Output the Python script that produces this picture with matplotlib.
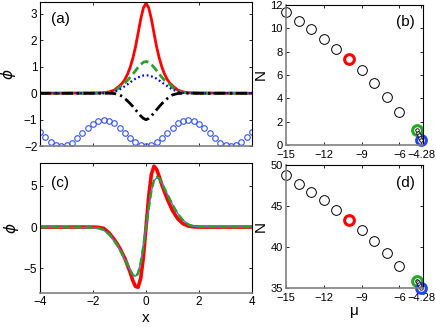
import numpy as np
import matplotlib
matplotlib.use('Agg')
import matplotlib.pyplot as plt

plt.rcParams['font.family'] = ['Liberation Sans', 'DejaVu Sans']
plt.rcParams['mathtext.fontset'] = 'dejavusans'

# ---- panel (a): profiles ----
x_a = [-4, -2, -1.6, -1.4, -1.2, -1.0, -0.9, -0.8, -0.7, -0.6, -0.5, -0.4, -0.3, -0.2, -0.1,
       0, 0.1, 0.2, 0.3, 0.4, 0.5, 0.6, 0.7, 0.8, 0.9, 1.0, 1.2, 1.4, 1.6, 2, 4]
red_a = [0, 0.01, 0.02, 0.05, 0.12, 0.28, 0.38, 0.52, 0.72, 0.98, 1.32, 1.75, 2.27, 2.81, 3.23,
         3.4, 3.23, 2.81, 2.27, 1.75, 1.32, 0.98, 0.72, 0.52, 0.38, 0.28, 0.12, 0.05, 0.02, 0.01, 0]
green_a = [0, 0, 0.01, 0.03, 0.08, 0.22, 0.33, 0.40, 0.49, 0.60, 0.72, 0.85, 0.98, 1.09, 1.17,
           1.2, 1.17, 1.09, 0.98, 0.85, 0.72, 0.60, 0.49, 0.40, 0.33, 0.22, 0.08, 0.03, 0.01, 0, 0]
blue_a = [0, 0, 0.005, 0.02, 0.06, 0.14, 0.2, 0.27, 0.34, 0.41, 0.48, 0.55, 0.6, 0.64, 0.67,
          0.68, 0.67, 0.64, 0.6, 0.55, 0.48, 0.41, 0.34, 0.27, 0.2, 0.14, 0.06, 0.02, 0.005, 0, 0]
black_a = [0, 0, 0, 0, -0.01, -0.06, -0.12, -0.2, -0.29, -0.39, -0.5, -0.62, -0.74, -0.86, -0.95,
           -1.0, -0.95, -0.86, -0.74, -0.62, -0.5, -0.39, -0.29, -0.2, -0.12, -0.06, -0.01, 0, 0, 0, 0]

# periodic lattice (blue circles), x = -4 .. 4 step 0.2
x_lat = np.round(np.arange(-4, 4.01, 0.2), 2)
lat = [-1.46, -1.66, -1.83, -1.95, -2.00, -1.97, -1.87, -1.71, -1.52, -1.33, -1.16,
       -1.04, -1.00, -1.03, -1.14, -1.30, -1.49, -1.69, -1.85, -1.96,
       -2.0,
       -1.96, -1.85, -1.69, -1.49, -1.30, -1.14, -1.03, -1.00, -1.04, -1.16,
       -1.33, -1.52, -1.71, -1.87, -1.97, -2.00, -1.95, -1.83, -1.66, -1.46]

# ---- panel (c): dipole profiles ----
x_c = [-4, -2, -1.8, -1.6, -1.4, -1.2, -1.0, -0.8, -0.6, -0.5, -0.4, -0.3, -0.2, -0.1,
       0, 0.1, 0.2, 0.3, 0.4, 0.5, 0.6, 0.8, 1.0, 1.2, 1.4, 1.6, 1.8, 2, 4]
red_c = [0, 0, -0.03, -0.15, -0.7, -1.5, -2.5, -3.8, -5.5, -6.5, -7.2, -7.3, -6.2, -3.6,
         0, 3.7, 6.4, 7.4, 7.0, 6.1, 5.1, 3.4, 2.0, 1.0, 0.4, 0.12, 0.03, 0, 0]
green_c = [0, -0.05, -0.12, -0.35, -0.85, -1.65, -2.6, -3.9, -5.2, -5.8, -6.1, -5.6, -4.3, -2.3,
           0, 2.3, 4.4, 5.7, 6.1, 5.9, 5.3, 4.0, 2.7, 1.6, 0.8, 0.3, 0.1, 0.03, 0]
blue_c = [0, -0.08, -0.15, -0.38, -0.9, -1.7, -2.65, -3.95, -5.2, -5.75, -6.0, -5.5, -4.2, -2.2,
          0, 2.2, 4.3, 5.6, 6.0, 5.85, 5.3, 4.05, 2.75, 1.65, 0.85, 0.32, 0.1, 0.03, 0]

# ---- panels (b),(d): N versus mu ----
mu_black = [-15, -14, -13, -12, -11, -9, -8, -7, -6]
N_b_black = [11.35, 10.6, 9.9, 9.1, 8.25, 6.4, 5.3, 4.1, 2.8]
N_d_black = [48.75, 47.75, 46.75, 45.7, 44.55, 42.1, 40.8, 39.25, 37.7]
mu_red, N_b_red, N_d_red = -10, 7.35, 43.35
mu_green, N_b_green, N_d_green = -4.6, 1.25, 35.9
mu_blue, N_b_blue, N_d_blue = -4.28, 0.4, 35.0
mu_tail = [-4.6, -4.52, -4.44, -4.36, -4.28]
N_b_tail = [1.25, 1.05, 0.85, 0.62, 0.4]
N_d_tail = [35.9, 35.7, 35.45, 35.2, 35.0]

fig = plt.figure(figsize=(4.36, 3.27), dpi=100)
ax_a = fig.add_axes([0.092, 0.553, 0.486, 0.441])
ax_c = fig.add_axes([0.092, 0.104, 0.486, 0.398])
ax_b = fig.add_axes([0.656, 0.557, 0.315, 0.428])
ax_d = fig.add_axes([0.656, 0.119, 0.315, 0.376])


def style(ax, size=8.5):
    ax.tick_params(direction='in', top=True, right=True, length=2.5, width=0.6,
                   labelsize=size, pad=2)
    for s in ax.spines.values():
        s.set_linewidth(0.8)
    ax.spines['bottom'].set_color('#808080')
    ax.spines['bottom'].set_linewidth(1.2)


# (a)
ax_a.plot(x_a, red_a, color='red', lw=2.0)
ax_a.plot(x_a, green_a, color='#2ca02c', lw=2.0, ls=(0, (3, 1.5)))
ax_a.plot(x_a, blue_a, color='blue', lw=1.6, ls=(0, (0.8, 1.2)))
ax_a.plot(x_a, black_a, color='black', lw=2.0, ls=(0, (4, 1.5, 0.8, 1.5)))
ax_a.plot(x_lat, lat, ls='none', marker='o', ms=4, mfc='none', mec='#3355ee', mew=0.8)
ax_a.set_xlim(-4, 4)
ax_a.set_ylim(-2, 3.45)
ax_a.set_xticks([-4, -2, 0, 2, 4])
ax_a.set_xticklabels([])
ax_a.set_yticks([-2, -1, 0, 1, 2, 3])
ax_a.set_yticklabels(['\u22122', '\u22121', '0', '1', '2', '3'])
ax_a.set_ylabel(r'$\phi$', fontsize=11, labelpad=4)
ax_a.text(0.05, 0.93, '(a)', transform=ax_a.transAxes, fontsize=11, va='top')
style(ax_a)

# (c)
ax_c.plot(x_c, red_c, color='red', lw=2.6)
ax_c.plot(x_c, blue_c, color='#5577ff', lw=1.0)
ax_c.plot(x_c, green_c, color='#2ca02c', lw=1.8, ls=(0, (3, 1.5)))
ax_c.set_xlim(-4, 4)
ax_c.set_ylim(-8, 7.8)
ax_c.set_xticks([-4, -2, 0, 2, 4])
ax_c.set_xticklabels(['\u22124', '\u22122', '0', '2', '4'])
ax_c.set_yticks([-5, 0, 5])
ax_c.set_yticklabels(['\u22125', '0', '5'])
ax_c.set_ylabel(r'$\phi$', fontsize=11, labelpad=2)
ax_c.set_xlabel('x', fontsize=11, labelpad=2)
ax_c.text(0.05, 0.9, '(c)', transform=ax_c.transAxes, fontsize=11, va='top')
style(ax_c)

# (b) and (d)
for ax, Nb, Nr, Ng, Nbl, Nt in [(ax_b, N_b_black, N_b_red, N_b_green, N_b_blue, N_b_tail),
                                (ax_d, N_d_black, N_d_red, N_d_green, N_d_blue, N_d_tail)]:
    ax.plot(mu_black, Nb, ls='none', marker='o', ms=7, mfc='none', mec='black', mew=0.7,
            clip_on=False)
    ax.plot(mu_red, Nr, ls='none', marker='o', ms=7, mfc='none', mec='red', mew=2.2)
    ax.plot(mu_green, Ng, ls='none', marker='o', ms=7, mfc='none', mec='#22aa22', mew=2.2,
            clip_on=False)
    ax.plot(mu_blue, Nbl, ls='none', marker='o', ms=7, mfc='none', mec='#2244ff', mew=2.2,
            clip_on=False)
    ax.plot(mu_tail, Nt, color='black', lw=1.5, marker='o', ms=2.5, mfc='white', mec='black',
            mew=0.6, clip_on=False)
    ax.set_xlim(-15, -4.1)
    ax.set_xticks([-15, -12, -9, -6, -4.28])
    ax.set_xticklabels(['\u221215', '\u221212', '\u22129', '\u22126', '\u22124.28'])
    ax.set_ylabel('N', fontsize=11, labelpad=2)
    style(ax, size=8)
    ax.tick_params(axis='x', pad=3.5)
    ax.tick_params(axis='y', pad=2.5)
    ax.spines['left'].set_color('#808080')
    ax.spines['left'].set_linewidth(1.2)

ax_b.set_ylim(0, 12)
ax_b.set_yticks([0, 2, 4, 6, 8, 10, 12])
ax_b.text(0.8, 0.85, '(b)', transform=ax_b.transAxes, fontsize=11)
ax_d.set_ylim(35, 50)
ax_d.set_yticks([35, 40, 45, 50])
ax_d.set_xlabel('\u03bc', fontsize=11, labelpad=1)
ax_d.text(0.8, 0.82, '(d)', transform=ax_d.transAxes, fontsize=11)

fig.savefig('out.png', dpi=100)
